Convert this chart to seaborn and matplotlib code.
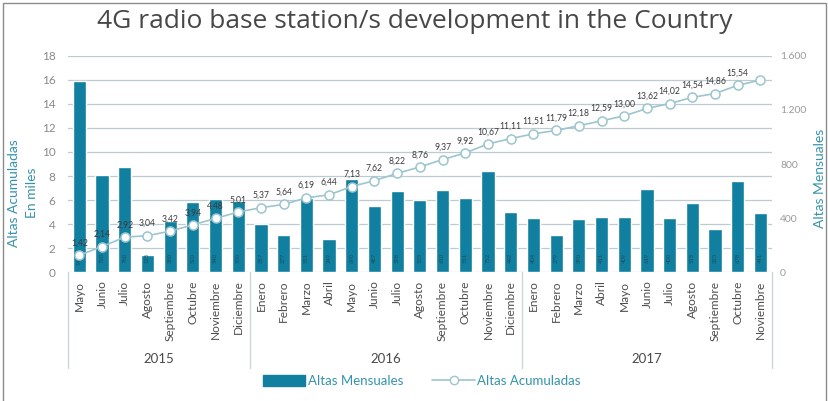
import matplotlib
matplotlib.use("Agg")
import matplotlib.pyplot as plt
import matplotlib.transforms as mtransforms
from matplotlib.patches import Patch, Rectangle
from matplotlib.lines import Line2D
import numpy as np
import pandas as pd
import seaborn as sns

# ---- data -------------------------------------------------------------
years = ["2015", "2016", "2017"]
months_2015 = ["Mayo", "Junio", "Julio", "Agosto", "Septiembre", "Octubre",
               "Noviembre", "Diciembre"]
months_2016 = ["Enero", "Febrero", "Marzo", "Abril", "Mayo", "Junio", "Julio",
               "Agosto", "Septiembre", "Octubre", "Noviembre", "Diciembre"]
months_2017 = ["Enero", "Febrero", "Marzo", "Abril", "Mayo", "Junio", "Julio",
               "Agosto", "Septiembre", "Octubre", "Noviembre"]

# monthly new stations (right axis)
altas_mensuales = [1416, 720, 780, 125, 380, 520, 540, 530,
                   357, 277, 551, 249, 690, 487, 598, 535, 610, 551, 752, 442,
                   404, 279, 390, 411, 409, 619, 400, 515, 323, 678, 441]
# accumulated stations, thousands (left axis)
altas_acumuladas = [1.42, 2.14, 2.92, 3.04, 3.42, 3.94, 4.48, 5.01,
                    5.37, 5.64, 6.19, 6.44, 7.13, 7.62, 8.22, 8.76, 9.37, 9.92,
                    10.67, 11.11,
                    11.51, 11.79, 12.18, 12.59, 13.00, 13.62, 14.02, 14.54,
                    14.86, 15.54, 15.98]
acumuladas_etiqueta = [True] * 30 + [False]

left_ticks = list(range(0, 19, 2))
right_ticks = [0, 400, 800, 1200, 1600]
right_ticklabels = ["0", "400", "800", "1.200", "1.600"]

# ---- styling ----------------------------------------------------------
sns.set_theme(style="white")
plt.rcParams["font.family"] = ["Lato", "DejaVu Sans"]

BAR = "#117f9f"
LINE = "#9cc5cf"
TEAL_TXT = "#3593ab"
GRID = "#bccbd2"

month_names = months_2015 + months_2016 + months_2017
month_year = ([years[0]] * len(months_2015) + [years[1]] * len(months_2016)
              + [years[2]] * len(months_2017))
df = pd.DataFrame({
    "periodo": [f"{y} {m}" for y, m in zip(month_year, month_names)],
    "mensuales": altas_mensuales,
    "acumuladas": altas_acumuladas,
})
order = list(df["periodo"])

fig = plt.figure(figsize=(8.29, 4.01), dpi=100)
ax_bar = fig.add_axes([0.082, 0.321, 0.849, 0.540])
ax_line = ax_bar.twinx()

# bars: monthly values
sns.barplot(data=df, x="periodo", y="mensuales", order=order, ax=ax_bar,
            color=BAR, saturation=1, width=0.58, zorder=2)

# line: accumulated values
sns.pointplot(data=df, x="periodo", y="acumuladas", order=order, ax=ax_line,
              color=LINE, markers="o", linestyles="-", linewidth=1.2,
              markersize=6.5, markerfacecolor="white", markeredgecolor=LINE,
              markeredgewidth=1.1, zorder=3)

ax_bar.set_ylim(0, 1600)
ax_line.set_ylim(0, 18)
ax_bar.set_xlim(-0.5, len(order) - 0.5)

# horizontal grid following the left scale, behind the bars
grid_tr = mtransforms.blended_transform_factory(ax_bar.transAxes, ax_line.transData)
for v in left_ticks:
    ax_bar.plot([0, 1], [v, v], transform=grid_tr, color=GRID, lw=0.9, zorder=0)

# axis sides
ax_bar.yaxis.tick_right()
ax_line.yaxis.tick_left()
ax_bar.set_yticks(right_ticks)
ax_bar.set_yticklabels(right_ticklabels)
ax_line.set_yticks(left_ticks)
ax_line.set_yticklabels([str(t) for t in left_ticks])
ax_bar.tick_params(axis="y", length=0, pad=6, labelsize=7.5, labelcolor="#9a9a9a")
ax_line.tick_params(axis="y", length=0, pad=9, labelsize=8.5, labelcolor="#8a8a8a")

for a in (ax_bar, ax_line):
    for s in a.spines.values():
        s.set_visible(False)
    a.set_xlabel("")
    a.set_ylabel("")

ax_bar.set_xticks(range(len(order)))
ax_bar.set_xticklabels(month_names, rotation=90, fontsize=8.6, color="#4d4d4d")
ax_bar.tick_params(axis="x", length=0, pad=6)

# value labels inside bars
for i, v in enumerate(altas_mensuales):
    ax_bar.text(i, 105, str(v), rotation=90, ha="center", va="center",
                fontsize=4.2, color="#1c4f5e", zorder=4)

# accumulated labels above points
for i, (v, show) in enumerate(zip(altas_acumuladas, acumuladas_etiqueta)):
    if show:
        ax_line.annotate(f"{v:.2f}".replace(".", ","), (i, v), xytext=(0, 5.5),
                         textcoords="offset points", ha="center", va="bottom",
                         fontsize=6.2, color="#3a3a3a", zorder=5)

# year groups under the month labels
sep_tr = mtransforms.blended_transform_factory(ax_bar.transData, ax_bar.transAxes)
bounds = [0, len(months_2015), len(months_2015) + len(months_2016), len(order)]
for b in bounds:
    ax_bar.plot([b - 0.5, b - 0.5], [0, -0.44], transform=sep_tr, color="#c9d6dc",
                lw=1.0, clip_on=False)
for y, a, b in zip(years, bounds[:-1], bounds[1:]):
    ax_bar.text((a + b - 1) / 2, -0.40, y, transform=sep_tr, ha="center",
                va="center", fontsize=9.5, color="#4a4a4a")

# axis titles
fig.text(14 / 829, 1 - 193 / 401, "Altas Acumuladas", rotation=90, ha="center",
         va="center", fontsize=10, color=TEAL_TXT)
fig.text(32 / 829, 1 - 193 / 401, "En miles", rotation=90, ha="center",
         va="center", fontsize=10, color=TEAL_TXT)
fig.text(820 / 829, 1 - 178 / 401, "Altas Mensuales", rotation=90, ha="center",
         va="center", fontsize=10, color=TEAL_TXT)

# title
fig.text(0.5, 1 - 22 / 401, "4G radio base station/s development in the Country",
         ha="center", va="center", fontsize=19, color="#474747",
         family=["Open Sans", "DejaVu Sans"])

# legend
handles = [Patch(facecolor=BAR, edgecolor=BAR),
           Line2D([0], [0], color=LINE, lw=1.2, marker="o", markersize=6,
                  markerfacecolor="white", markeredgecolor=LINE)]
leg = fig.legend(handles, ["Altas Mensuales", "Altas Acumuladas"], loc="center",
                 bbox_to_anchor=(422 / 829, 1 - 381 / 401), ncol=2, frameon=False,
                 fontsize=9.5, handlelength=3.2, handleheight=0.9,
                 columnspacing=2.2, handletextpad=0.2)
for t in leg.get_texts():
    t.set_color(TEAL_TXT)

# outer frame
fig.patches.append(Rectangle((3 / 829, -0.05), 823 / 829, 1.05 - 3 / 401,
                             transform=fig.transFigure, fill=False,
                             edgecolor="#8c8c8c", lw=1.0))

fig.savefig("out.png", dpi=100)
